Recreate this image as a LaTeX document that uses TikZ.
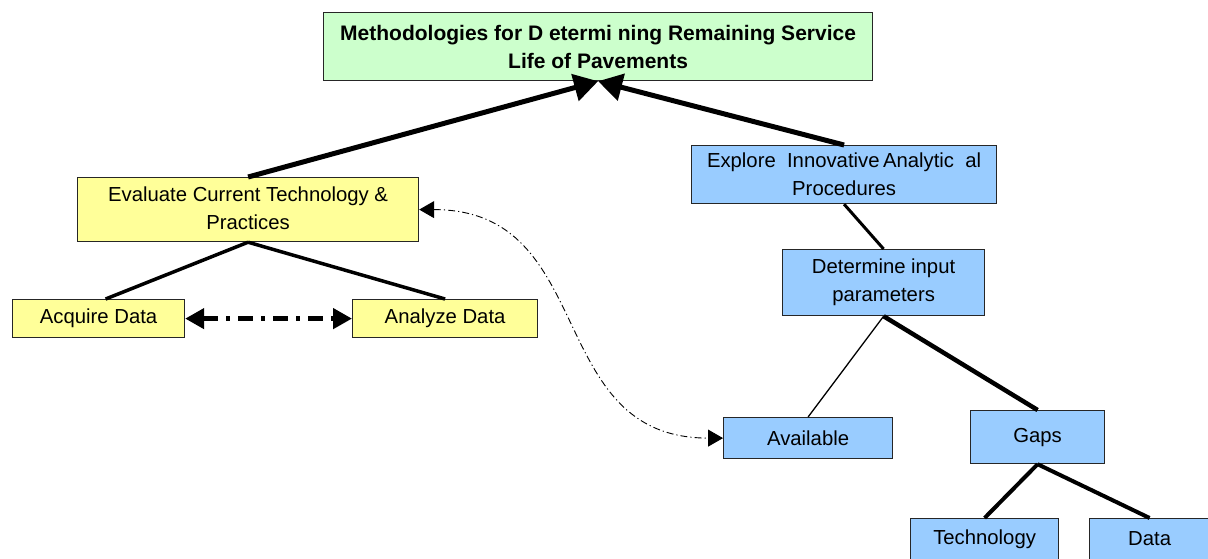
\documentclass[tikz,border=0pt]{standalone}
\usepackage{fontspec}
\setmainfont{Liberation Sans}
\usetikzlibrary{arrows.meta,calc}
\definecolor{boxgreen}{HTML}{CCFFCC}
\definecolor{boxyellow}{HTML}{FFFF99}
\definecolor{boxblue}{HTML}{99CCFF}
\begin{document}
\begin{tikzpicture}[x=1pt,y=-1pt,
  box/.style={draw=black!85,line width=1.2pt,anchor=north west,inner sep=0pt,
    align=center,font=\fontsize{20.3}{28}\selectfont},
  greenbox/.style={box,fill=boxgreen,font=\fontsize{21}{28}\selectfont\bfseries},
  yellowbox/.style={box,fill=boxyellow},
  bluebox/.style={box,fill=boxblue},
  mainarrow/.style={line width=5pt,-{Triangle[length=24pt,width=27pt]}},
  link/.style={line width=#1},
  dashdot/.style={line width=4.5pt,dash pattern=on 15pt off 8pt on 4pt off 8pt,
    {Triangle[length=19pt,width=20pt]}-{Triangle[length=19pt,width=20pt]}},
  curvelink/.style={line width=0.9pt,dash pattern=on 7pt off 3pt on 1.2pt off 3pt,
    {Triangle[length=15pt,width=17pt]}-{Triangle[length=15pt,width=17pt]}}
]
\clip (0,0) rectangle (1208,558);
\fill[white] (0,0) rectangle (1208,558);

% boxes
\node[greenbox,minimum width=549pt,minimum height=68pt] (title) at (323,12)
  {Methodologies for D etermi ning Remaining Service\\Life of Pavements};
\node[yellowbox,minimum width=341pt,minimum height=64pt,
  text depth=2pt] (eval) at (77,177)
  {Evaluate Current Technology \&\hspace{8pt}\\Practices};
\node[yellowbox,minimum width=172pt,minimum height=38pt] (acq) at (12,299) {Acquire Data};
\node[yellowbox,minimum width=185pt,minimum height=38pt] (ana) at (352,299) {Analyze Data};
\node[bluebox,minimum width=305pt,minimum height=58pt] (expl) at (691,145)
  {Explore\ \ Innovative\,Analytic\ \ al\\Procedures};
\node[bluebox,minimum width=202pt,minimum height=66pt] (det) at (782,249)
  {Determine input\\parameters};
\node[bluebox,minimum width=169pt,minimum height=41pt] (avail) at (723,417) {Available};
\node[bluebox,minimum width=134pt,minimum height=53pt] (gaps) at (970,410) {Gaps};
\node[bluebox,minimum width=148pt,minimum height=41pt] (tech) at (910,518) {Technology};
\node[bluebox,minimum width=120pt,minimum height=41pt] (data) at (1089,518) {Data};

% connectors
\draw[mainarrow] (eval.north) -- (title.south);
\draw[mainarrow] (expl.north) -- (title.south);
\draw[link=3.5pt] (eval.south) -- ($(acq.north)+(7,0)$);
\draw[link=3.5pt] (eval.south) -- (ana.north);
\draw[dashdot] (acq.east) -- (ana.west);
\draw[link=3pt] (expl.south) -- (det.north);
\draw[link=1.3pt] (det.south) -- (avail.north);
\draw[link=4.5pt] (det.south) -- (gaps.north);
\draw[link=4pt] (gaps.south) -- (tech.north);
\draw[link=4pt] (gaps.south) -- (data.north);
\draw[curvelink] (eval.east) .. controls +(180,0) and +(-180,0) .. (avail.west);
\end{tikzpicture}
\end{document}
